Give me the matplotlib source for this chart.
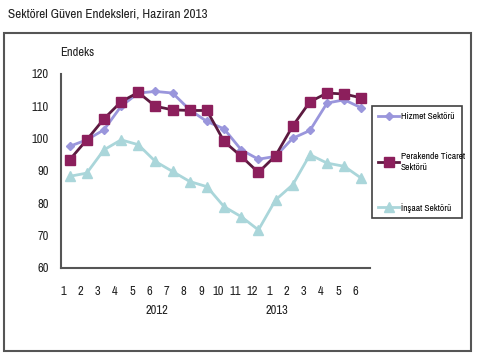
import matplotlib
matplotlib.use("Agg")
import matplotlib.pyplot as plt
import matplotlib.transforms as mtransforms
from matplotlib.patches import Rectangle

months = ["1", "2", "3", "4", "5", "6", "7", "8", "9", "10", "11", "12",
          "1", "2", "3", "4", "5", "6"]
years = ["2012", "2013"]
hizmet = [97.6, 99.6, 102.7, 110.0, 114.1, 114.6, 114.1, 108.9, 105.3, 103.0,
          96.5, 93.6, 94.5, 100.1, 102.5, 111.0, 112.0, 109.5]
perakende = [93.4, 99.6, 106.1, 111.4, 114.3, 110.0, 108.9, 108.7, 108.7, 99.1,
             94.5, 89.5, 94.7, 103.9, 111.4, 114.1, 113.8, 112.6]
insaat = [88.3, 89.3, 96.5, 99.6, 98.1, 92.9, 89.8, 86.7, 85.1, 78.9,
          75.8, 71.7, 81.0, 85.7, 95.0, 92.4, 91.4, 87.7]
series_names = ["Hizmet Sektörü", "Perakende Ticaret\nSektörü", "İnşaat Sektörü"]

FONT = ["Archivo Narrow", "Liberation Sans", "DejaVu Sans"]
plt.rcParams["font.family"] = FONT

fig = plt.figure(figsize=(4.8, 3.6), dpi=100)
fig.patch.set_facecolor("white")

fig.patches.append(Rectangle((4 / 480, 1 - 351 / 360), 467 / 480, 318 / 360,
                             transform=fig.transFigure, fill=False,
                             edgecolor="#555555", linewidth=1.5))

fig.text(8 / 480, 1 - 14 / 360, "Sektörel Güven Endeksleri, Haziran 2013",
         fontsize=9.5, color="#222222", va="center", ha="left")

ax = fig.add_axes([61 / 480, (360 - 267.7) / 360, 309 / 480, 193.7 / 360])
x = list(range(1, len(months) + 1))

l1, = ax.plot(x, hizmet, color="#9a96dc", lw=2, marker="D", ms=4.5,
              markeredgecolor="#9a96dc", zorder=3)
l2, = ax.plot(x, perakende, color="#5c1a40", lw=2, marker="s", ms=7,
              markerfacecolor="#8c1f5c", markeredgecolor="#8c1f5c", zorder=4)
l3, = ax.plot(x, insaat, color="#aad6da", lw=2, marker="^", ms=6.5,
              markerfacecolor="#aad6da", markeredgecolor="#aad6da", zorder=2)

ax.set_ylim(60, 120)
ax.set_xlim(0.5, 18.5)
ax.set_yticks(range(60, 121, 10))
ax.set_xticks(x)
ax.set_xticklabels(months)
ax.tick_params(axis="both", length=0, labelsize=9, colors="#222222")
ax.tick_params(axis="x", pad=13)
ax.tick_params(axis="y", pad=9)
offset = mtransforms.ScaledTranslation(-6 / 100, 0, fig.dpi_scale_trans)
for lab in ax.get_xticklabels():
    lab.set_transform(lab.get_transform() + offset)

for s in ["top", "right"]:
    ax.spines[s].set_visible(False)
for s in ["left", "bottom"]:
    ax.spines[s].set_color("#555555")
    ax.spines[s].set_linewidth(1.5)

trans = mtransforms.blended_transform_factory(ax.transData, ax.transAxes)
ax.text(6.1, -0.222, years[0], transform=trans, ha="center", va="center",
        fontsize=9, color="#222222")
ax.text(13.1, -0.222, years[1], transform=trans, ha="center", va="center",
        fontsize=9, color="#222222")

fig.text(60 / 480, 1 - 52 / 360, "Endeks", fontsize=9, color="#222222",
         ha="left", va="center")

leg = fig.legend([l1, l2, l3], series_names, loc="upper left",
                 bbox_to_anchor=(372 / 480, 1 - 110 / 360, 90 / 480, 0.01),
                 mode="expand", fontsize=6.8, labelspacing=3.3, handlelength=2.3,
                 handletextpad=0.15, borderpad=0.6, frameon=True, fancybox=False,
                 borderaxespad=0)
leg.get_frame().set_edgecolor("#111111")
leg.get_frame().set_linewidth(1.2)

fig.savefig("out.png", dpi=100, facecolor="white")
